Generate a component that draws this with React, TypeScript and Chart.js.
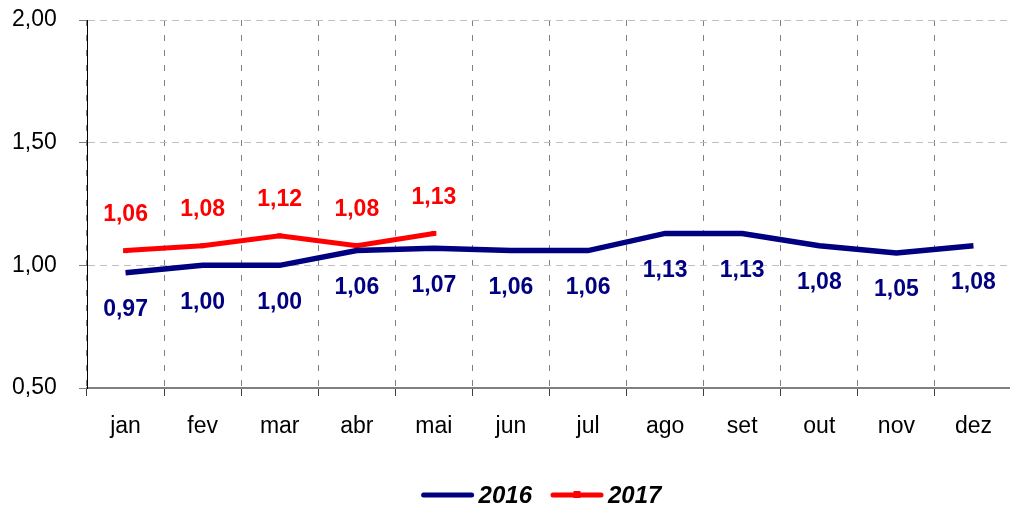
import React, { useEffect, useRef } from "react";
import { Chart, registerables } from "chart.js";

Chart.register(...registerables);

const months = ["jan", "fev", "mar", "abr", "mai", "jun", "jul", "ago", "set", "out", "nov", "dez"];
const values2016 = [0.97, 1.0, 1.0, 1.06, 1.07, 1.06, 1.06, 1.13, 1.13, 1.08, 1.05, 1.08];
const values2017 = [1.06, 1.08, 1.12, 1.08, 1.13];
const seriesNames = ["2016", "2017"];
const yTickMin = 0.5;
const yTickMax = 2.0;
const yTickStep = 0.5;

const BLUE = "#000080";
const RED = "#ff0000";
const FONT = "'Liberation Sans', Arial, sans-serif";

const fmt = (v: number) => v.toFixed(2).replace(".", ",");

const labelsPlugin = {
  id: "valueLabels",
  afterDatasetsDraw(chart: any) {
    const ctx = chart.ctx;
    ctx.save();
    ctx.font = `bold 23px ${FONT}`;
    ctx.textAlign = "center";
    ctx.textBaseline = "middle";
    chart.data.datasets.forEach((ds: any, i: number) => {
      const meta = chart.getDatasetMeta(i);
      ctx.fillStyle = ds.borderColor;
      meta.data.forEach((pt: any, j: number) => {
        const v = ds.data[j];
        if (v == null) return;
        const dy = i === 0 ? 37 : -36;
        ctx.fillText(fmt(v), pt.x, pt.y + dy);
      });
    });
    ctx.restore();
  },
};

const legendPlugin = {
  id: "customLegend",
  afterDraw(chart: any) {
    const ctx = chart.ctx;
    ctx.save();
    ctx.font = `italic bold 24px ${FONT}`;
    ctx.textBaseline = "middle";
    ctx.textAlign = "left";
    const lineLen = 52;
    const gapText = 5;
    const gapItem = 19;
    const y = 495;
    const widths = chart.data.datasets.map((ds: any) => lineLen + gapText + ctx.measureText(ds.label).width);
    const total = widths.reduce((a: number, b: number) => a + b, 0) + gapItem * (widths.length - 1);
    let x = 541.5 - total / 2;
    chart.data.datasets.forEach((ds: any, i: number) => {
      ctx.strokeStyle = ds.borderColor;
      ctx.lineWidth = 5;
      ctx.lineCap = "round";
      ctx.beginPath();
      ctx.moveTo(x + 2, y);
      ctx.lineTo(x + lineLen - 2, y);
      ctx.stroke();
      if (i === 1) {
        ctx.fillStyle = ds.borderColor;
        ctx.fillRect(x + lineLen / 2 - 3.5, y - 4, 7, 7);
      }
      ctx.fillStyle = "#000";
      ctx.fillText(ds.label, x + lineLen + gapText, y + 1);
      x += widths[i] + gapItem;
    });
    ctx.restore();
  },
};

export default function App() {
  const canvasRef = useRef<HTMLCanvasElement | null>(null);

  useEffect(() => {
    if (!canvasRef.current) return;
    const chart = new Chart(canvasRef.current, {
      type: "line",
      data: {
        labels: months,
        datasets: [
          {
            label: seriesNames[0],
            data: values2016,
            borderColor: BLUE,
            backgroundColor: BLUE,
            borderWidth: 5.5,
            pointRadius: 0,
            tension: 0,
            fill: false,
          },
          {
            label: seriesNames[1],
            data: values2017,
            borderColor: RED,
            backgroundColor: RED,
            borderWidth: 5,
            pointStyle: "rect",
            pointRadius: 3.5,
            pointBorderWidth: 0,
            pointBackgroundColor: RED,
            tension: 0,
            fill: false,
          },
        ],
      },
      options: {
        animation: false,
        responsive: false,
        layout: { padding: { top: 20, left: 12, right: 0, bottom: 0 } },
        plugins: {
          legend: { display: false },
          tooltip: { enabled: false },
        },
        scales: {
          x: {
            offset: true,
            grid: {
              offset: true,
              color: "#808080",
              lineWidth: 1,
              tickLength: 8,
              tickColor: "#404040",
              drawTicks: true,
            },
            border: { display: true, color: "#808080", width: 2, dash: [6, 9] },
            ticks: {
              color: "#000",
              font: { family: FONT, size: 23 },
              padding: 17,
              maxRotation: 0,
              autoSkip: false,
            },
            afterFit(scale: any) {
              scale.height = 123;
            },
          },
          y: {
            min: yTickMin,
            max: yTickMax,
            grid: {
              color: "#c0c0c0",
              lineWidth: 1,
              tickLength: 8,
              tickColor: "#808080",
            },
            border: { display: true, color: "#000", width: 1, dash: [7, 5] },
            ticks: {
              stepSize: yTickStep,
              color: "#000",
              font: { family: FONT, size: 23 },
              padding: 3,
              crossAlign: "far",
              callback: (v: any) => fmt(Number(v)),
            },
            afterFit(scale: any) {
              scale.width = 75;
            },
          },
        },
      },
      plugins: [labelsPlugin, legendPlugin],
    });
    return () => chart.destroy();
  }, []);

  return (
    <div style={{ position: "fixed", left: 0, top: 0, width: 1010, height: 511, overflow: "hidden", background: "#fff" }}>
      <canvas ref={canvasRef} width={1016} height={511} style={{ display: "block" }} />
    </div>
  );
}
